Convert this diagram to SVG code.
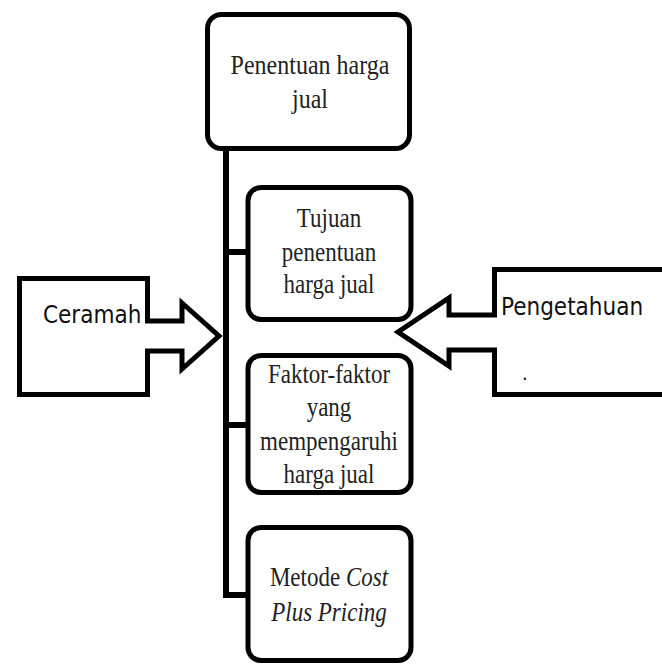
<svg xmlns="http://www.w3.org/2000/svg" width="662" height="665" viewBox="0 0 662 665">
<style>
.box{fill:#fff;stroke:#000;stroke-width:5;}
.ln{fill:none;stroke:#000;stroke-width:6;stroke-linejoin:miter;}
.arr{fill:#fff;stroke:#000;stroke-width:5;stroke-linejoin:miter;}
.sr{font-family:"Liberation Serif","Times New Roman",serif;font-size:23px;fill:#222;text-anchor:middle;}
.ss{font-family:"DejaVu Sans Condensed","DejaVu Sans",sans-serif;font-stretch:condensed;font-size:24px;fill:#111;}
</style>
<rect width="662" height="665" fill="#fff"/>
<g id="connectors">
<path class="ln" d="M226,150 V595 H248"/>
<path class="ln" d="M226,252 H248"/>
<path class="ln" d="M226,425 H248"/>
</g>
<g id="node-penentuan">
<rect class="box" x="207.5" y="14.5" width="202" height="134" rx="14"/>
<text class="sr" style="font-size:24px" transform="translate(310,74) scale(1,1.15)">Penentuan harga</text>
<text class="sr" style="font-size:24px" transform="translate(310,108) scale(1,1.15)">jual</text>
</g>
<g id="node-tujuan">
<rect class="box" x="248" y="187.5" width="163" height="132" rx="13"/>
<text class="sr" transform="translate(329,227) scale(1,1.2)">Tujuan</text>
<text class="sr" transform="translate(329,261) scale(1,1.2)">penentuan</text>
<text class="sr" transform="translate(329,293) scale(1,1.2)">harga jual</text>
</g>
<g id="node-faktor">
<rect class="box" x="248" y="355.5" width="163" height="137" rx="13"/>
<text class="sr" transform="translate(329,383) scale(1,1.2)">Faktor-faktor</text>
<text class="sr" transform="translate(329,416) scale(1,1.2)">yang</text>
<text class="sr" transform="translate(329,450) scale(1,1.2)">mempengaruhi</text>
<text class="sr" transform="translate(329,483) scale(1,1.2)">harga jual</text>
</g>
<g id="node-metode">
<rect class="box" x="248" y="527.5" width="163" height="133" rx="13"/>
<text class="sr" transform="translate(329,586) scale(1,1.2)">Metode <tspan font-style="italic">Cost</tspan></text>
<text class="sr" font-style="italic" transform="translate(329,621) scale(1,1.2)">Plus Pricing</text>
</g>
<g id="node-ceramah">
<path class="arr" d="M147.5,321 H182 V303 L219,336 L182,369 V351 H147.5 V394.5 H19.5 V278.5 H147.5 Z"/>
<text class="ss" x="43" y="323">Ceramah</text>
</g>
<g id="node-pengetahuan">
<path class="arr" d="M494.5,315 H449 V298 L398,332 L449,366 V350 H494.5 V394.5 H700 V269.5 H494.5 Z"/>
<text class="ss" x="501" y="315">Pengetahuan</text>
<text class="ss" style="font-size:20px" x="522" y="380">.</text>
</g>
</svg>
